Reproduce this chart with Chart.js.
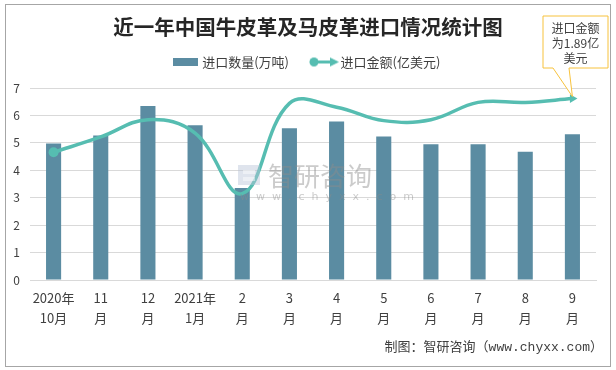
<!DOCTYPE html>
<html>
<head>
<meta charset="utf-8">
<script src="https://cdn.jsdelivr.net/npm/chart.js@4.4.0/dist/chart.umd.min.js"></script>
<style>
  html, body { margin: 0; padding: 0; background: #fff; }
  #wrap { position: relative; width: 616px; height: 370px; }
  #frame { position: absolute; left: 5px; top: 4px; width: 604px; height: 361px; border: 1px solid #a6a6a6; pointer-events: none; }
</style>
</head>
<body>
<div id="wrap">
  <canvas id="chart" width="616" height="370"></canvas>
  <div id="frame"></div>
</div>
<script>
  // data
  const labels = [['2020年', '10月'], ['11', '月'], ['12', '月'], ['2021年', '1月'], ['2', '月'], ['3', '月'],
                  ['4', '月'], ['5', '月'], ['6', '月'], ['7', '月'], ['8', '月'], ['9', '月']];
  const qtyValues = [4.98, 5.27, 6.34, 5.64, 3.35, 5.53, 5.78, 5.23, 4.95, 4.95, 4.68, 5.31];   // 万吨
  const amountValues = [1.33, 1.49, 1.67, 1.53, 0.90, 1.84, 1.80, 1.66, 1.67, 1.85, 1.85, 1.89]; // 亿美元
  const yTicks = [0, 1, 2, 3, 4, 5, 6, 7];

  const BAR = '#5b8ca2';
  const LINE = '#56bdb1';
  const CJK = '"Noto Sans CJK SC", "Microsoft YaHei", sans-serif';

  // legend icons
  function makeBarIcon() {
    const c = document.createElement('canvas');
    c.width = 25; c.height = 8;
    const g = c.getContext('2d');
    g.fillStyle = BAR;
    g.fillRect(0, 0, 25, 8);
    return c;
  }
  function makeLineIcon() {
    const c = document.createElement('canvas');
    c.width = 30; c.height = 11;
    const g = c.getContext('2d');
    g.fillStyle = LINE; g.strokeStyle = LINE; g.lineWidth = 3;
    g.beginPath(); g.arc(5, 5.5, 4.5, 0, Math.PI * 2); g.fill();
    g.beginPath(); g.moveTo(5, 5.5); g.lineTo(23, 5.5); g.stroke();
    g.beginPath(); g.moveTo(21, 1); g.lineTo(30, 5.5); g.lineTo(21, 10); g.closePath(); g.fill();
    return c;
  }
  const barIcon = makeBarIcon();
  const lineIcon = makeLineIcon();

  // push the plot a bit below the legend
  const legendGap = {
    id: 'legendGap',
    beforeInit(chart) {
      const fit = chart.legend.fit;
      chart.legend.fit = function () {
        fit.bind(chart.legend)();
        this.height += 9.5;
      };
    }
  };

  // watermark, callout, source line
  const extras = {
    id: 'extras',
    afterDatasetsDraw(chart) {
      const ctx = chart.ctx;
      ctx.save();
      ctx.globalAlpha = 0.45;
      ctx.fillStyle = '#b7c3d6';
      ctx.fillRect(238, 165, 22, 20);
      ctx.fillStyle = '#ffffff';
      ctx.fillRect(243, 170, 12, 4);
      ctx.fillRect(243, 177, 12, 4);
      ctx.fillStyle = '#8c8c8c';
      ctx.font = '26px ' + CJK;
      ctx.textBaseline = 'middle';
      ctx.fillText('智研咨询', 268, 176);
      ctx.font = '11px "DejaVu Sans"';
      ctx.fillText('w  w  w  .  c  h  y  x  x  .  c  o  m', 240, 197);
      ctx.restore();

      // callout for the last amount
      const pt = chart.getDatasetMeta(0).data[amountValues.length - 1];
      const bx = 543, by = 16, bw = 65, bh = 52;
      ctx.save();
      ctx.fillStyle = '#ffffff';
      ctx.strokeStyle = '#f7c23d';
      ctx.lineWidth = 1;
      ctx.beginPath();
      ctx.moveTo(bx, by);
      ctx.lineTo(bx + bw, by);
      ctx.lineTo(bx + bw, by + bh);
      ctx.lineTo(569, by + bh);
      ctx.lineTo(pt.x, pt.y - 2);
      ctx.lineTo(553, by + bh);
      ctx.lineTo(bx, by + bh);
      ctx.closePath();
      ctx.fill();
      ctx.stroke();
      ctx.fillStyle = '#404040';
      ctx.font = '12px ' + CJK;
      ctx.textAlign = 'center';
      ctx.textBaseline = 'middle';
      ctx.fillText('进口金额', bx + bw / 2, 28);
      ctx.fillText('为' + amountValues[amountValues.length - 1] + '亿', bx + bw / 2, 43);
      ctx.fillText('美元', bx + bw / 2, 58);

      ctx.font = '13px "Liberation Mono", ' + CJK;
      ctx.textAlign = 'right';
      ctx.fillText('制图：智研咨询（www.chyxx.com）', 603, 348);
      ctx.restore();
    }
  };

  const n = amountValues.length;
  new Chart(document.getElementById('chart'), {
    data: {
      labels: labels,
      datasets: [
        {
          type: 'line',
          label: '进口金额(亿美元)',
          data: amountValues,
          yAxisID: 'y2',
          borderColor: LINE,
          backgroundColor: LINE,
          borderWidth: 3.5,
          tension: 0.4,
          pointStyle: amountValues.map((v, i) => i === n - 1 ? 'triangle' : 'circle'),
          pointRadius: amountValues.map((v, i) => i === 0 ? 5 : (i === n - 1 ? 5 : 0)),
          pointRotation: amountValues.map((v, i) => i === n - 1 ? 90 : 0),
          pointBorderWidth: 0,
          order: 0
        },
        {
          type: 'bar',
          label: '进口数量(万吨)',
          data: qtyValues,
          yAxisID: 'y',
          backgroundColor: BAR,
          categoryPercentage: 1,
          barPercentage: 0.32,
          order: 1
        }
      ]
    },
    options: {
      responsive: false,
      animation: false,
      layout: { padding: { left: 6, right: 6, top: 0, bottom: 34 } },
      plugins: {
        title: {
          display: true,
          text: '近一年中国牛皮革及马皮革进口情况统计图',
          color: '#262626',
          font: { size: 20.5, weight: 'bold', family: CJK },
          padding: { top: 15.2, bottom: -9.3 }
        },
        legend: {
          position: 'top',
          labels: {
            usePointStyle: true,
            pointStyleWidth: 20,
            padding: 25,
            color: '#404040',
            font: { size: 13, family: CJK },
            generateLabels: () => [
              { text: '进口数量(万吨)', pointStyle: barIcon, fillStyle: BAR, strokeStyle: 'transparent', lineWidth: 0, fontColor: '#404040', datasetIndex: 1 },
              { text: '进口金额(亿美元)', pointStyle: lineIcon, fillStyle: LINE, strokeStyle: 'transparent', lineWidth: 0, fontColor: '#404040', datasetIndex: 0 }
            ]
          }
        },
        tooltip: { enabled: false }
      },
      scales: {
        x: {
          grid: { display: false, drawTicks: false },
          border: { display: true, color: '#d9d9d9' },
          ticks: {
            color: '#404040',
            font: { size: 13, family: CJK, lineHeight: 20 / 13 },
            padding: 8,
            maxRotation: 0,
            autoSkip: false
          }
        },
        y: {
          min: 0,
          max: 7,
          afterBuildTicks: (s) => { s.ticks = yTicks.map(v => ({ value: v })); },
          afterFit: (s) => { s.width = 24; },
          grid: { color: '#d9d9d9', drawTicks: false },
          border: { display: false },
          ticks: { color: '#404040', font: { size: 12, family: CJK }, padding: 10 }
        },
        y2: {
          position: 'right',
          min: 0,
          max: 2,
          afterFit: (s) => { s.width = 14; },
          grid: { display: false, drawTicks: false },
          border: { display: false },
          ticks: { display: false }
        }
      }
    },
    plugins: [legendGap, extras]
  });
</script>
</body>
</html>
